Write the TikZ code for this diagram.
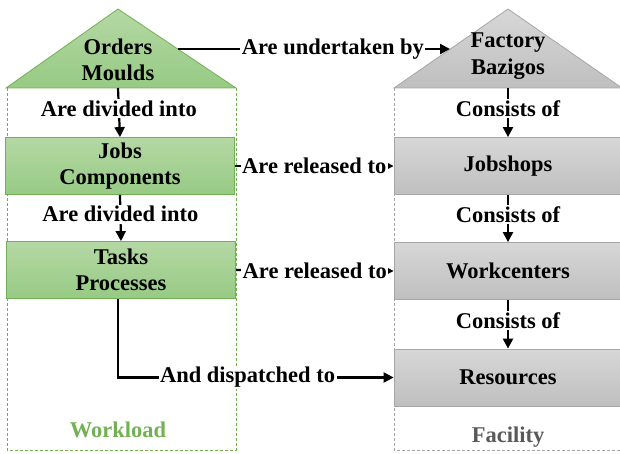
\documentclass[tikz,border=0pt]{standalone}
\usepackage{fontspec}
\setmainfont{Liberation Serif}
\usetikzlibrary{arrows.meta}
\definecolor{gborder}{HTML}{72B152}
\definecolor{gtop}{HTML}{B4D8A4}
\definecolor{gbot}{HTML}{97CA84}
\definecolor{kborder}{HTML}{A6A6A6}
\definecolor{ktop}{HTML}{D7D7D7}
\definecolor{kbot}{HTML}{BFBFBF}
\definecolor{facgray}{HTML}{595959}
\tikzset{
  txt/.style={font=\fontsize{22.5}{26.5}\selectfont\bfseries, align=center, inner sep=0pt},
  gbox/.style={txt, draw=gborder, line width=0.8pt, top color=gtop, bottom color=gbot, minimum width=229pt, minimum height=57pt},
  kbox/.style={txt, draw=kborder, line width=0.8pt, top color=ktop, bottom color=kbot, minimum width=228pt, minimum height=57pt},
  gtri/.style={draw=gborder, line width=0.8pt, top color=gtop, bottom color=gbot},
  ktri/.style={draw=kborder, line width=0.8pt, top color=ktop, bottom color=kbot},
  gcont/.style={draw=gborder, line width=0.7pt, dash pattern=on 3pt off 2pt},
  kcont/.style={draw=kborder, line width=0.7pt, dash pattern=on 3pt off 2pt},
  conn/.style={draw=black, line width=2.2pt, -{Triangle[length=10pt,width=10pt]}},
  lab/.style={txt, fill=white, inner sep=1.5pt}
}
\begin{document}
\begin{tikzpicture}[x=1pt,y=-1pt]
\useasboundingbox (0,0) rectangle (620,454);
% containers
\draw[gcont] (7,88) -- (7,450) -- (236,450) -- (236,88);
\draw[kcont] (394,88) -- (394,450) -- (622,450) -- (622,88);
% triangles
\draw[gtri] (6,88) -- (118,9) -- (236,88) -- cycle;
\draw[ktri] (394,88) -- (508,9) -- (622,88) -- cycle;
\node[txt] (orders) at (118,60) {Orders\\Moulds};
\node[txt] (factory) at (508,56) {Factory\\Bazigos};
\coordinate (ordE) at (177.7,49);
\coordinate (facW) at (450,49);
\coordinate (ordB) at (118,88);
\coordinate (facB) at (508,88);
% boxes
\node[gbox] (jobs) at (120,166) {Jobs\\Components};
\node[gbox] (tasks) at (121,270) {Tasks\\Processes};
\node[kbox] (jobshops) at (508,166) {Jobshops};
\node[kbox] (work) at (508,271) {Workcenters};
\node[kbox] (res) at (508,377.5) {Resources};
% labels bottom
\node[txt, text=gborder] (workload) at (118,430) {Workload};
\node[txt, text=facgray] (facility) at (508,437) {Facility};
% connectors
\draw[conn] (ordE) -- node[lab, pos=0.57] {Are undertaken by} (facW);
\draw[conn] (ordB) -- node[lab, pos=0.42] {Are divided into} (jobs.north);
\draw[conn] (jobs.south) -- node[lab, pos=0.42] {Are divided into} (tasks.north);
\draw[conn] (jobs.east) -- node[lab] {Are released to} (jobshops.west);
\draw[conn] (tasks.east) -- node[lab] {Are released to} (work.west);
\draw[conn] (facB) -- node[lab, pos=0.42] {Consists of} (jobshops.north);
\draw[conn] (jobshops.south) -- node[lab, pos=0.42] {Consists of} (work.north);
\draw[conn] (work.south) -- node[lab, pos=0.42] {Consists of} (res.north);
\draw[conn] (118,298.5) |- node[lab, pos=0.735] {And dispatched to} (res.west);
\end{tikzpicture}
\end{document}
